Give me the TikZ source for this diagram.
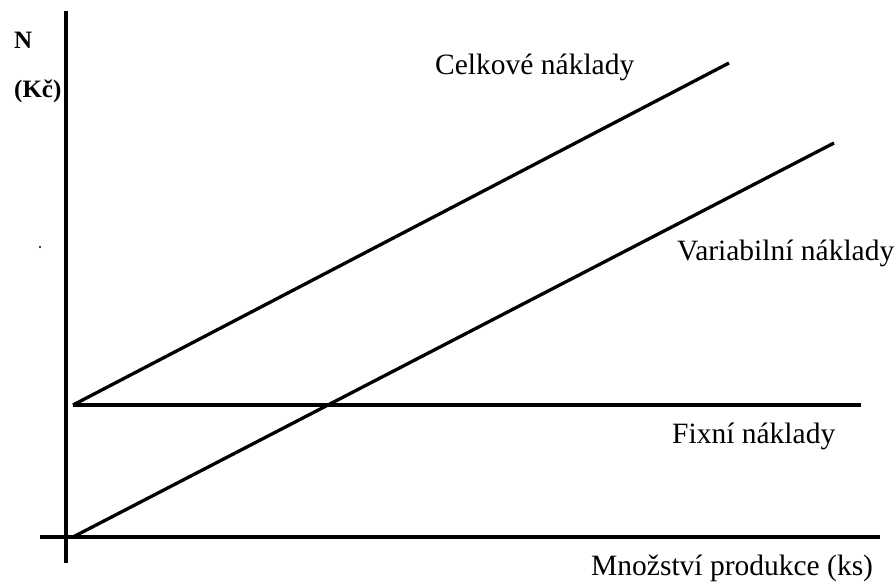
\documentclass[tikz,border=0pt]{standalone}
\usepackage{fontspec}
\setmainfont{Liberation Serif}
\begin{document}
\begin{tikzpicture}[x=1pt,y=-1pt,
  curve/.style={line width=3.3pt,black},
  axisline/.style={line width=3.6pt,black},
  lbl/.style={inner sep=0pt,anchor=base west,font=\fontsize{29.5}{31}\selectfont},
  blbl/.style={inner sep=0pt,anchor=base west,font=\fontsize{25}{27}\selectfont\bfseries}]
\useasboundingbox (0,0) rectangle (896,583);
% axes
\coordinate (ytop) at (66,11);
\coordinate (ybot) at (66,563);
\coordinate (xl) at (40,537);
\coordinate (xr) at (880,537);
\draw[axisline] (ytop) -- (ybot);
\draw[axisline] (xl) -- (xr);
% cost lines
\coordinate (fstart) at (73,405);
\coordinate (fend) at (861,405);
\coordinate (cend) at (729,63);
\coordinate (vstart) at (73,537);
\coordinate (vend) at (834,143);
\draw[curve] (fstart) -- (fend);
\draw[curve] (fstart) -- (cend);
\draw[curve] (vstart) -- (vend);
% labels
\node[blbl] (n) at (14,49) {N};
\node[blbl] (kc) at (14,98) {(Kč)};
\node[lbl] (celk) at (435,75) {Celkové náklady};
\node[lbl] (var) at (677,260) {Variabilní náklady};
\node[lbl] (fix) at (672,443) {Fixní náklady};
\node[lbl] (mnoz) at (591,575) {Množství produkce (ks)};
\fill (40,247) circle (1.1pt);
\end{tikzpicture}
\end{document}
